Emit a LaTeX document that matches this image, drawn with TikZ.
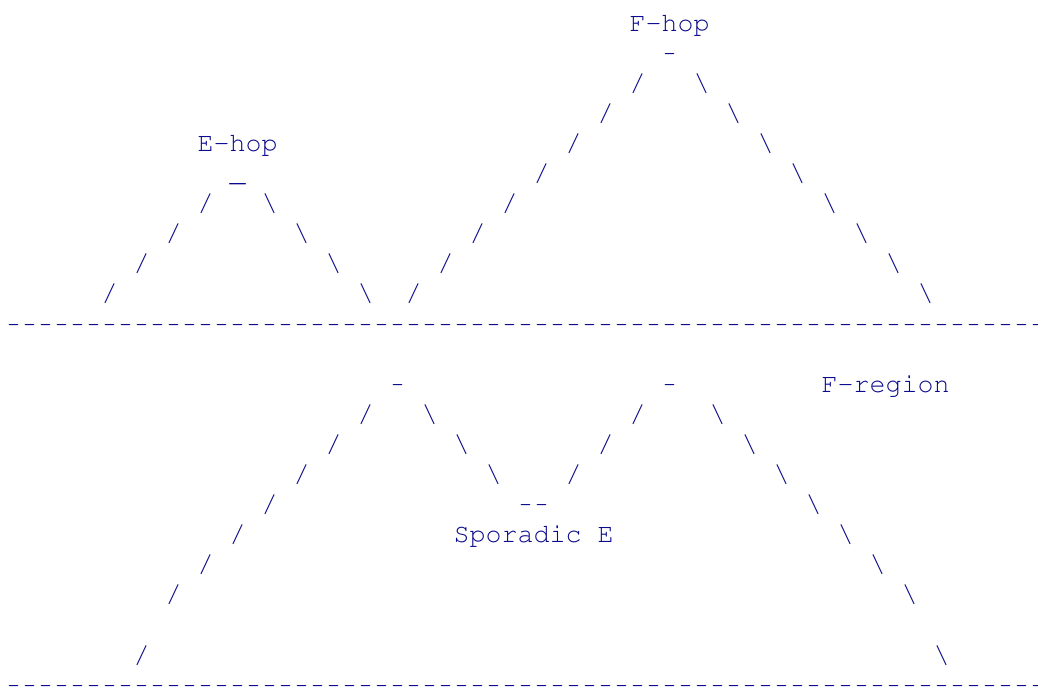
\documentclass[tikz,border=0pt]{standalone}
\usepackage[T1]{fontenc}
\definecolor{inkblue}{RGB}{10,10,140}
% Courier-style typewriter face (pcr), 20pt: 12pt per character cell
\newcommand\typeface{\fontencoding{T1}\fontfamily{pcr}\fontseries{m}\fontshape{n}\fontsize{20pt}{24pt}\selectfont}
% a slightly shorter hyphen, so that rows of them read as a dashed rule
\newcommand\hy{\scalebox{0.78}[1]{-}}
% one unit = one character-grid pixel; y grows downwards
\tikzset{
  glyph/.style={font=\typeface, text=inkblue,
                inner sep=0pt, outer sep=0pt, anchor=base},
  word/.style={glyph, anchor=base west},
}
% character cell: column c centre at 13.5+16c, row r baseline at 31+30.1r
\newcommand\cellx[1]{13.5+16*(#1)}
\newcommand\celly[1]{31+30.1*(#1)}
\begin{document}
\begin{tikzpicture}[x=0.75pt,y=-0.75pt]
  \fill[white] (0,0) rectangle (1038,686);
  \useasboundingbox (0,0) rectangle (1038,686);

  % ---- upper panel: E-hop and F-hop ----
  \node[word] (fhop) at ({\cellx{39}-8},{\celly{0}}) {F-hop};
  \node[glyph] (fhoptop) at ({\cellx{41}},{\celly{1}}) {\hy};
  \node[word] (ehop) at ({\cellx{12}-8},{\celly{4}}) {E-hop};
  \node[glyph] (ehoptop) at ({\cellx{14}},{\celly{5}}) {\_};

  % E-hop ray, up and down
  \foreach \c/\r [count=\i] in {6/9,8/8,10/7,12/6}
    \node[glyph] (eup\i) at ({\cellx{\c}},{\celly{\r}}) {/};
  \foreach \c/\r [count=\i] in {16/6,18/7,20/8,22/9}
    \node[glyph] (edown\i) at ({\cellx{\c}},{\celly{\r}}) {\textbackslash};

  % F-hop ray, up and down
  \foreach \c/\r [count=\i] in {25/9,27/8,29/7,31/6,33/5,35/4,37/3,39/2}
    \node[glyph] (fup\i) at ({\cellx{\c}},{\celly{\r}}) {/};
  \foreach \c/\r [count=\i] in {43/2,45/3,47/4,49/5,51/6,53/7,55/8,57/9}
    \node[glyph] (fdown\i) at ({\cellx{\c}},{\celly{\r}}) {\textbackslash};

  % ground line
  \foreach \c in {0,...,64}
    \node[glyph] (grounda\c) at ({\cellx{\c}},{\celly{10}}) {\hy};

  % ---- lower panel: sporadic E and F-region ----
  \node[glyph] (speaka) at ({\cellx{24}},{\celly{12}}) {\hy};
  \node[glyph] (speakb) at ({\cellx{41}},{\celly{12}}) {\hy};
  \node[word] (fregion) at ({\cellx{51}-8},{\celly{12}}) {F-region};
  \node[glyph] (svalleya) at ({\cellx{32}},{\celly{16}}) {\hy};
  \node[glyph] (svalleyb) at ({\cellx{33}},{\celly{16}}) {\hy};
  \node[word] (sporadic) at ({\cellx{28}-8},{\celly{17}}) {Sporadic E};

  % rising ray from the left
  \foreach \c/\r [count=\i] in {8/21,10/19,12/18,14/17,16/16,18/15,20/14,22/13}
    \node[glyph] (lup\i) at ({\cellx{\c}},{\celly{\r}}) {/};
  % down into the sporadic-E dip
  \foreach \c/\r [count=\i] in {26/13,28/14,30/15}
    \node[glyph] (sdown\i) at ({\cellx{\c}},{\celly{\r}}) {\textbackslash};
  % up out of the dip
  \foreach \c/\r [count=\i] in {35/15,37/14,39/13}
    \node[glyph] (sup\i) at ({\cellx{\c}},{\celly{\r}}) {/};
  % long descent to the right
  \foreach \c/\r [count=\i] in {44/13,46/14,48/15,50/16,52/17,54/18,56/19,58/21}
    \node[glyph] (rdown\i) at ({\cellx{\c}},{\celly{\r}}) {\textbackslash};

  % ground line
  \foreach \c in {0,...,64}
    \node[glyph] (groundb\c) at ({\cellx{\c}},{\celly{22}}) {\hy};
\end{tikzpicture}
\end{document}
